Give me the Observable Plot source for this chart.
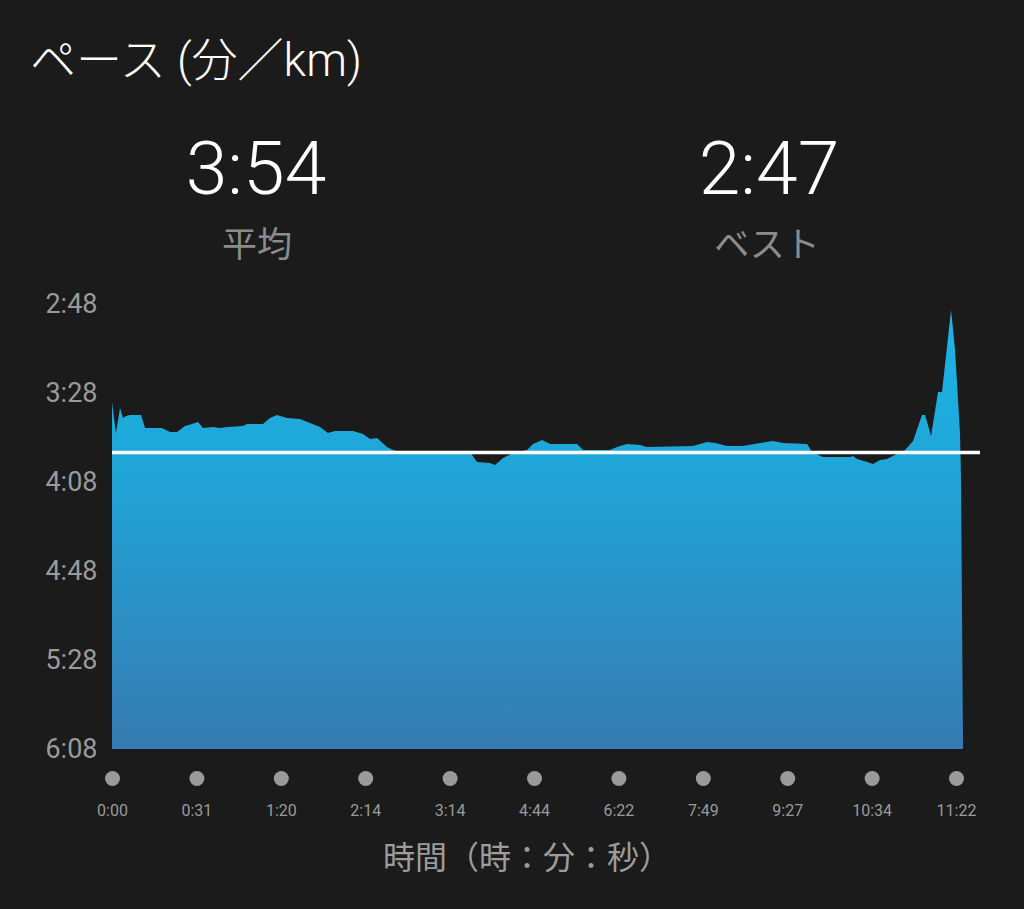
<!DOCTYPE html>
<html>
<head>
<meta charset="utf-8">
<script src="https://cdn.jsdelivr.net/npm/d3@7"></script>
<script src="https://cdn.jsdelivr.net/npm/@observablehq/plot@0.6"></script>
<style>
  html, body { margin: 0; padding: 0; background: #1b1b1b; }
  #wrap { position: relative; width: 1024px; height: 909px; background: #1b1b1b; overflow: hidden;
          font-family: Roboto, "Noto Sans CJK JP", sans-serif; }
  .abs { position: absolute; white-space: nowrap; }
  #title { left: 30px; top: 23px; font-size: 46px; color: #ffffff; font-weight: 300; }
  .stat { font-size: 75px; color: #ffffff; font-weight: 300; transform: translateX(-50%); top: 124px; }
  .statlab { font-size: 35px; color: #8c8c8c; transform: translateX(-50%); top: 216px; font-family: "Noto Sans CJK JP", sans-serif; }
  #xlabel { font-size: 32px; color: #9c9c9c; transform: translateX(-50%); left: 527px; top: 832px; font-family: "Noto Sans CJK JP", sans-serif; }
  #chart { position: absolute; left: 0; top: 270px; }
</style>
</head>
<body>
<div id="wrap">
  <div id="title" class="abs">ペース (分／km)</div>
  <div class="abs stat" style="left:256px">3:54</div>
  <div class="abs statlab" style="left:257px">平均</div>
  <div class="abs stat" style="left:769px">2:47</div>
  <div class="abs statlab" style="left:767px">ベスト</div>
  <div id="chart"></div>
  <div id="xlabel" class="abs">時間（時：分：秒）</div>
</div>
<script>
// position along the run (in tick intervals) and pace (seconds per km)
const position = [0, 0.047, 0.095, 0.130, 0.166, 0.213, 0.344, 0.391, 0.592, 0.687,
  0.770, 0.865, 0.948, 1.019, 1.078, 1.197, 1.280, 1.374, 1.552, 1.600,
  1.789, 1.872, 1.955, 2.073, 2.227, 2.346, 2.464, 2.559, 2.642, 2.855,
  2.974, 3.057, 3.140, 3.258, 3.329, 3.412, 4.242, 4.325, 4.479, 4.538,
  4.633, 4.751, 4.917, 4.988, 5.095, 5.190, 5.509, 5.581, 5.900, 5.983,
  6.102, 6.256, 6.339, 6.884, 7.050, 7.145, 7.287, 7.476, 7.678, 7.832,
  7.950, 8.235, 8.294, 8.424, 8.744, 8.780, 8.827, 8.946, 9.017, 9.100,
  9.182, 9.277, 9.396, 9.491, 9.597, 9.633, 9.704, 9.787, 9.834, 9.941,
  9.988, 10.047, 10.059, 10.083];
const paceSec = [212.0, 226.0, 214.7, 219.2, 218.3, 217.9, 217.9, 223.7, 223.7, 225.5,
  225.5, 222.8, 221.9, 221.0, 223.7, 223.3, 223.7, 223.3, 222.8, 221.9,
  221.9, 219.2, 217.9, 219.2, 219.7, 221.5, 223.3, 226.0, 225.1, 225.1,
  226.4, 228.7, 228.2, 232.3, 233.6, 234.5, 234.5, 239.0, 239.5, 240.4,
  237.2, 235.0, 233.6, 230.9, 229.1, 230.9, 230.9, 233.6, 233.6, 232.3,
  230.9, 231.4, 232.3, 231.8, 230.0, 230.5, 231.8, 231.8, 230.5, 229.6,
  230.5, 230.9, 234.5, 236.8, 236.8, 236.3, 237.7, 239.0, 239.9, 238.1,
  237.7, 235.9, 233.6, 229.6, 217.9, 217.9, 227.3, 207.5, 207.5, 170.7,
  188.7, 226.0, 247.1, 368.0];
const averagePace = 234.5;           // 3:54
const yTicks = [168, 208, 248, 288, 328, 368];   // 2:48 ... 6:08
const xTickLabels = ["0:00", "0:31", "1:20", "2:14", "3:14", "4:44", "6:22", "7:49", "9:27", "10:34", "11:22"];
const xTicks = xTickLabels.map((_, i) => i);

const data = position.map((p, i) => ({pos: p, pace: paceSec[i]}));
const fmt = s => `${Math.floor(s / 60)}:${String(Math.round(s % 60)).padStart(2, "0")}`;

const svg = Plot.plot({
  width: 1024,
  height: 639,
  marginTop: 34,
  marginBottom: 160,
  marginLeft: 112,
  marginRight: 44,
  style: {background: "#1b1b1b", color: "#9a9a9a", fontFamily: "Roboto, 'Noto Sans CJK JP', sans-serif"},
  x: {domain: [0, 10.284], axis: null},
  y: {domain: [168, 368], reverse: true, axis: null},
  marks: [
    Plot.areaY(data, {x: "pos", y1: 368, y2: "pace", fill: "url(#paceGrad)", curve: "linear"}),
    Plot.ruleY([averagePace], {stroke: "#ffffff", strokeWidth: 3.5}),
    Plot.axisY({ticks: yTicks, tickFormat: fmt, tickSize: 0, tickPadding: 15, fontSize: 27, label: null}),
    Plot.dot(xTicks, {x: d => d, frameAnchor: "bottom", dy: 29, r: 7.5, fill: "#9a9a9a", stroke: null}),
    Plot.axisX({ticks: xTicks, tickFormat: i => xTickLabels[i], tickSize: 0, tickPadding: 55, fontSize: 16, label: null})
  ]
});

const defs = d3.select(svg).insert("defs", ":first-child");
const grad = defs.append("linearGradient").attr("id", "paceGrad")
  .attr("x1", 0).attr("y1", 0).attr("x2", 0).attr("y2", 1);
grad.append("stop").attr("offset", "0%").attr("stop-color", "#1bb5e6");
grad.append("stop").attr("offset", "35%").attr("stop-color", "#1fa6d8");
grad.append("stop").attr("offset", "100%").attr("stop-color", "#367bb2");

document.getElementById("chart").appendChild(svg);
</script>
</body>
</html>
